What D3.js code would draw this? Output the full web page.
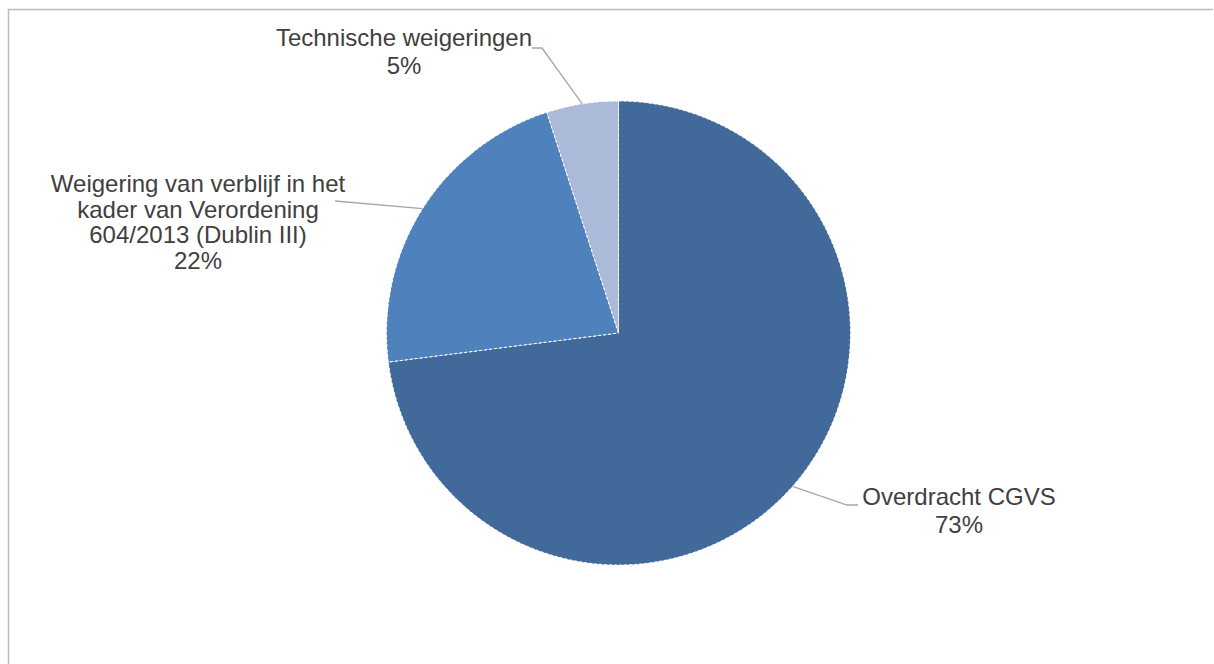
<!DOCTYPE html>
<html>
<head>
<meta charset="utf-8">
<script src="https://cdn.jsdelivr.net/npm/d3@7"></script>
<style>
  html, body { margin: 0; padding: 0; background: #fff; }
  svg { display: block; }
  text { font-family: "Liberation Sans", Arial, sans-serif; font-size: 24px; fill: #404040; }
</style>
</head>
<body>
<svg id="chart" width="1214" height="664"></svg>
<script>
// Data
const categories = ["Overdracht CGVS", "Weigering van verblijf in het kader van Verordening 604/2013 (Dublin III)", "Technische weigeringen"];
const values = [73, 22, 5];
const colors = ["#416999", "#4F81BD", "#AABAD8"];
const labelLines = [
  ["Overdracht CGVS", "73%"],
  ["Weigering van verblijf in het", "kader van Verordening", "604/2013 (Dublin III)", "22%"],
  ["Technische weigeringen", "5%"]
];

// Layout
const W = 1214, H = 664;
const cx = 618.5, cy = 333, R = 232;
const labelPos = [
  { x: 959, y: 505, lh: 28, anchor: [858, 505], elbow: [847, 505] },
  { x: 198, y: 192, lh: 25.5, anchor: [335, 201], elbow: null },
  { x: 404, y: 46, lh: 27.5, anchor: [532, 48], elbow: [542, 48] }
];

const svg = d3.select("#chart");

// frame (top and left edges visible)
svg.append("path")
  .attr("d", "M8.5,700 L8.5,9.5 L1213,9.5")
  .attr("fill", "none")
  .attr("stroke", "#BDBDBD")
  .attr("stroke-width", 1.5);

const pie = d3.pie().sort(null).value(d => d)(values);
const arc = d3.arc().innerRadius(0).outerRadius(R);

const g = svg.append("g").attr("transform", `translate(${cx},${cy})`);

g.selectAll("path.slice")
  .data(pie)
  .join("path")
  .attr("class", "slice")
  .attr("d", arc)
  .attr("fill", (d, i) => colors[i])
  .attr("stroke", "#ffffff")
  .attr("stroke-width", 1)
  .attr("stroke-dasharray", "3,2");

// leader lines
pie.forEach((d, i) => {
  const a = (d.startAngle + d.endAngle) / 2;
  const px = cx + R * Math.sin(a);
  const py = cy - R * Math.cos(a);
  const lp = labelPos[i];
  const pts = [[px, py]];
  if (lp.elbow) pts.push(lp.elbow);
  pts.push(lp.anchor);
  svg.append("path")
    .attr("d", d3.line()(pts))
    .attr("fill", "none")
    .attr("stroke", "#A6A6A6")
    .attr("stroke-width", 1.3);
});

// labels
labelLines.forEach((lines, i) => {
  const lp = labelPos[i];
  const t = svg.append("text")
    .attr("text-anchor", "middle");
  lines.forEach((ln, j) => {
    t.append("tspan")
      .attr("x", lp.x)
      .attr("y", lp.y + j * lp.lh)
      .text(ln);
  });
});
</script>
</body>
</html>
